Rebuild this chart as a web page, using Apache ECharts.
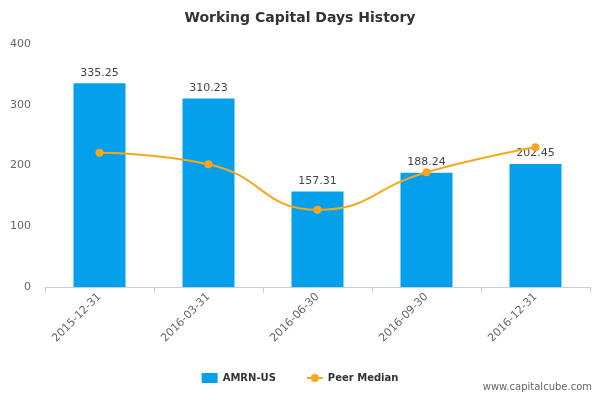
<!DOCTYPE html>
<html><head><meta charset="utf-8">
<script src="https://cdn.jsdelivr.net/npm/echarts@6/dist/echarts.min.js"></script>
<style>html,body{margin:0;padding:0;background:#fff}#c{width:600px;height:400px}</style>
</head><body><div id="c"></div>
<script>
const categories = ['2015-12-31','2016-03-31','2016-06-30','2016-09-30','2016-12-31'];
const amrnValues = [335.25, 310.23, 157.31, 188.24, 202.45];
const peerMedian = [221, 202, 127, 189, 230];
const chart = echarts.init(document.getElementById('c'));
chart.setOption({
  animation:false,
  title:{text:'Working Capital Days History',left:'center',top:6,textStyle:{fontFamily:'DejaVu Sans',fontSize:14,fontWeight:'bold',color:'#333'}},
  grid:{left:45,right:10,top:44,bottom:113},
  legend:{bottom:12,left:'center',itemWidth:16,itemHeight:10,itemGap:30,textStyle:{fontFamily:'DejaVu Sans',fontSize:10,fontWeight:'bold',color:'#333'},
    data:[{name:'AMRN-US',icon:'rect'},{name:'Peer Median'}]},
  graphic:[{type:'text',right:8,bottom:8,style:{text:'www.capitalcube.com',font:'10px DejaVu Sans',fill:'#666'}}],
  xAxis:{type:'category',data:categories,axisLine:{lineStyle:{color:'#c0d0e0'}},axisTick:{show:true,alignWithLabel:false,length:6,lineStyle:{color:'#c0d0e0'}},
    axisLabel:{rotate:45,color:'#666',fontFamily:'DejaVu Sans',fontSize:11,margin:8}},
  yAxis:{type:'value',min:0,max:400,interval:100,splitLine:{show:false},axisLine:{show:false},axisTick:{show:false},
    axisLabel:{color:'#666',fontFamily:'DejaVu Sans',fontSize:11,margin:14}},
  series:[
    {name:'AMRN-US',type:'bar',data:amrnValues,barWidth:52,itemStyle:{color:'#05a0ec'},
      label:{show:true,position:'top',color:'#444',fontFamily:'DejaVu Sans',fontSize:11,formatter:p=>p.value.toFixed(2)}},
    {name:'Peer Median',type:'line',data:peerMedian,smooth:0.5,symbol:'circle',symbolSize:8,
      itemStyle:{color:'#f9a61b'},lineStyle:{color:'#f9a61b',width:2}}
  ]
});
</script></body></html>
